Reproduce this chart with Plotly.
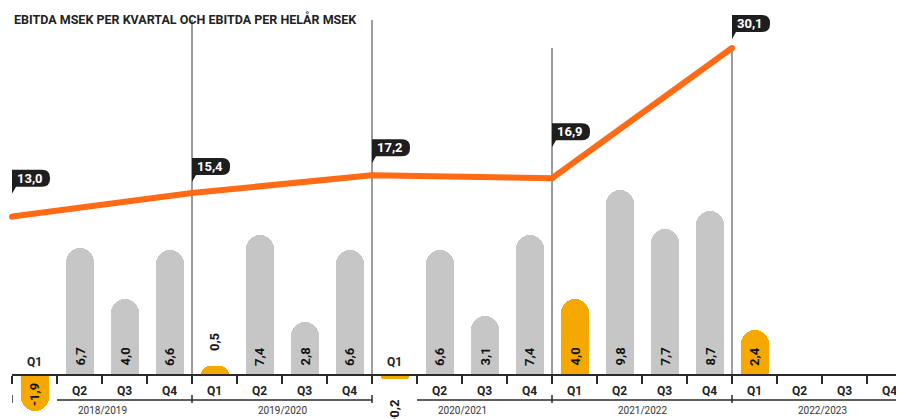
import plotly.graph_objects as go

# ---------------- data ----------------
years = ["2018/2019", "2019/2020", "2020/2021", "2021/2022", "2022/2023"]
quarter_names = ["Q1", "Q2", "Q3", "Q4"]
q_2018_2019 = [-1.9, 6.7, 4.0, 6.6]
q_2019_2020 = [0.5, 7.4, 2.8, 6.6]
q_2020_2021 = [-0.2, 6.6, 3.1, 7.4]
q_2021_2022 = [4.0, 9.8, 7.7, 8.7]
q_2022_2023 = [2.4, None, None, None]
annual_ebitda = [13.0, 15.4, 17.2, 16.9, 30.1]
title_text = "EBITDA MSEK PER KVARTAL OCH EBITDA PER HELÅR MSEK"

# ---------------- style ----------------
W, H = 904, 419
OFF = 8               # page body margin: figure starts 8px right/down of the window corner
FONT = "Roboto"
GREY = "#c6c6c6"
ORANGE_BAR = "#f5a800"
ORANGE_LINE = "#ff6a14"
DARK = "#1e1e1e"
AXIS = "#2b2b2b"

# all pixel positions below are window pixels; converted to figure pixels with OFF
PX_LEFT = 12 - OFF    # first quarter boundary
PX_Q = 45             # pixels per quarter
PX_ZERO = 375 - OFF   # bar zero line
BAR_SCALE = 18.9      # px per MSEK (bars)
LINE_ZERO = 344.9 - OFF
LINE_SCALE = 9.865    # px per MSEK (annual line)
callout_lift = [30, 18, 19, 38, 16]      # px between point and callout bottom
separator_top_px = [20, 20, 48, 48]      # window pixel rows of separator tops

quarterly = q_2018_2019 + q_2019_2020 + q_2020_2021 + q_2021_2022 + q_2022_2023
n = len(quarterly)
xq = list(range(n))
x_year = [4 * k - 0.5 for k in range(len(years))]

def fmt(v):
    return f"{v:.1f}".replace(".", ",")

def py(p):  # window pixel row -> paper y
    return (H - (p - OFF)) / H

bar_colors = [ORANGE_BAR if i % 4 == 0 else GREY for i in xq]

fig = go.Figure()
fig.add_trace(go.Bar(
    x=xq, y=quarterly, width=28 / PX_Q,
    marker=dict(color=bar_colors, cornerradius=14, line=dict(width=0)),
    hoverinfo="skip", showlegend=False,
))
fig.add_trace(go.Scatter(
    x=x_year, y=annual_ebitda, yaxis="y2", mode="lines+markers",
    line=dict(color=ORANGE_LINE, width=6),
    marker=dict(color=ORANGE_LINE, size=6),
    cliponaxis=False, hoverinfo="skip", showlegend=False,
))

shapes = []
annotations = []

# year separators
for k, x in enumerate(x_year[1:]):
    shapes.append(dict(type="line", xref="x", yref="paper", x0=x, x1=x,
                       y0=py(375), y1=py(separator_top_px[k]),
                       line=dict(color="#3a3a3a", width=1), layer="below"))

# year bracket line under quarter labels (skipped under negative quarters)
BR = 400
seg_start = None
for i in xq + [n]:
    ok = i < n and not (quarterly[i] is not None and quarterly[i] < 0)
    if ok and seg_start is None:
        seg_start = i - 0.5
    if not ok and seg_start is not None:
        shapes.append(dict(type="line", xref="x", yref="paper", x0=seg_start, x1=i - 0.5,
                           y0=py(BR), y1=py(BR), line=dict(color=AXIS, width=1.5), layer="below"))
        seg_start = None
for x in x_year:
    shapes.append(dict(type="line", xref="x", yref="paper", x0=x, x1=x,
                       y0=py(BR - 5), y1=py(BR + 3), line=dict(color=AXIS, width=1.5), layer="below"))

# callouts for annual values
BW, BH, RR, TL = 38, 17, 8, 7
for k, (x, v) in enumerate(zip(x_year, annual_ebitda)):
    L = callout_lift[k]
    path = (f"M0,{L - TL} L0,{L + BH} L{BW - RR},{L + BH} Q{BW},{L + BH} {BW},{L + BH - RR} "
            f"L{BW},{L + RR} Q{BW},{L} {BW - RR},{L} L4,{L} Z")
    shapes.append(dict(type="path", xref="x", yref="y2", xsizemode="pixel", ysizemode="pixel",
                       xanchor=x, yanchor=v, path=path, fillcolor=DARK,
                       line=dict(width=0), layer="above"))
    annotations.append(dict(x=x, y=v, xref="x", yref="y2", xshift=BW / 2 - 1, yshift=L + BH / 2,
                            text=fmt(v), showarrow=False, xanchor="center", yanchor="middle",
                            font=dict(family=FONT, size=13, color="white", weight="bold")))

# value labels on bars
for i, v in enumerate(quarterly):
    if v is None:
        continue
    big = abs(v) * BAR_SCALE >= 28
    if v >= 0:
        y, ya, ys = (0, "bottom", 7) if big else (v, "bottom", 12)
    else:
        y, ya, ys = (0, "top", -6) if big else (v, "top", -19)
    annotations.append(dict(x=i, y=y, xref="x", yref="y", yshift=ys, text=fmt(v),
                            textangle=-90, showarrow=False, xanchor="center", yanchor=ya,
                            font=dict(family=FONT, size=13, color="#111", weight="bold")))

# quarter labels
for i in xq:
    v = quarterly[i]
    above = v is not None and v < 0
    annotations.append(dict(x=i, y=0, xref="x", yref="y", yshift=13 if above else -15.5,
                            text=quarter_names[i % 4], showarrow=False,
                            xanchor="center", yanchor="middle",
                            font=dict(family=FONT, size=12, color="#222", weight="bold")))

# year labels
for k, name in enumerate(years):
    annotations.append(dict(x=4 * k + 1.5, y=py(410), xref="x", yref="paper", text=name,
                            showarrow=False, xanchor="center", yanchor="middle",
                            font=dict(family=FONT, size=10, color="#333")))

# title
annotations.append(dict(x=PX_LEFT / W, y=py(19.5), xref="paper", yref="paper", text=title_text,
                        showarrow=False, xanchor="left", yanchor="middle",
                        font=dict(family=FONT, size=12.5, color="#222", weight="bold")))

y_range = [-(H - PX_ZERO) / BAR_SCALE, PX_ZERO / BAR_SCALE]
y2_range = [-(H - LINE_ZERO) / LINE_SCALE, LINE_ZERO / LINE_SCALE]
x_range = [-0.5, -0.5 + (W - PX_LEFT) / PX_Q]

fig.update_layout(
    width=W, height=H,
    margin=dict(l=0, r=0, t=0, b=0, pad=0),
    paper_bgcolor="white", plot_bgcolor="white",
    bargap=0,
    xaxis=dict(domain=[PX_LEFT / W, 1], range=x_range, anchor="free",
               position=(0 - y_range[0]) / (y_range[1] - y_range[0]),
               showgrid=False, zeroline=False, showline=True, linecolor=AXIS, linewidth=2,
               ticks="outside", ticklen=8, tickwidth=2, tickcolor=AXIS,
               tickvals=[i - 0.5 for i in range(n + 1)], showticklabels=False, fixedrange=True),
    yaxis=dict(range=y_range, visible=False, domain=[0, 1], fixedrange=True),
    yaxis2=dict(range=y2_range, visible=False, overlaying="y", fixedrange=True),
    shapes=shapes, annotations=annotations,
    font=dict(family=FONT),
)

fig.write_html("out.html")
